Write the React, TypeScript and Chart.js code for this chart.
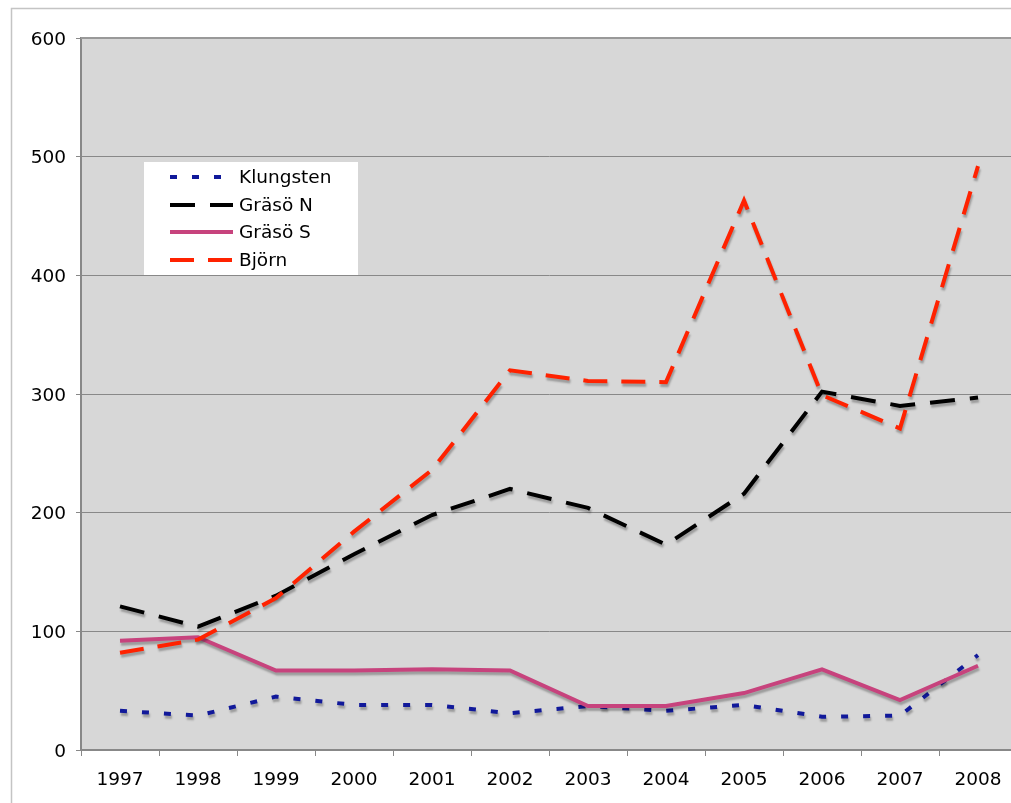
import React, { useEffect, useRef } from "react";
import { Chart, registerables } from "chart.js";

Chart.register(...registerables);

const years = ["1997", "1998", "1999", "2000", "2001", "2002", "2003", "2004", "2005", "2006", "2007", "2008"];
const klungsten = [33, 29, 45, 38, 38, 31, 37, 33, 38, 28, 29, 80];
const grasoN = [121, 104, 130, 165, 198, 220, 204, 173, 216, 302, 290, 297];
const grasoS = [92, 95, 67, 67, 68, 67, 37, 37, 48, 68, 42, 71];
const bjorn = [82, 93, 128, 184, 236, 320, 311, 310, 463, 299, 271, 492];
const yMin = 0;
const yMax = 600;
const yStep = 100;

const FONT = "'DejaVu Sans', Verdana, sans-serif";

export default function App() {
  const ref = useRef<HTMLCanvasElement | null>(null);

  useEffect(() => {
    const canvas = ref.current;
    if (!canvas) return;

    const framePlugin = {
      id: "frame",
      beforeDraw(chart: any) {
        const { ctx, chartArea } = chart;
        ctx.save();
        ctx.fillStyle = "#ffffff";
        ctx.fillRect(0, 0, chart.width, chart.height);
        ctx.strokeStyle = "#c4c4c4";
        ctx.lineWidth = 1.5;
        ctx.beginPath();
        ctx.moveTo(11.5, chart.height + 5);
        ctx.lineTo(11.5, 8.5);
        ctx.lineTo(chart.width + 5, 8.5);
        ctx.stroke();
        ctx.fillStyle = "#d7d7d7";
        ctx.fillRect(chartArea.left, chartArea.top, chartArea.right - chartArea.left, chartArea.bottom - chartArea.top);
        ctx.restore();
      },
      afterDatasetsDraw(chart: any) {
        const { ctx, chartArea } = chart;
        ctx.save();
        ctx.strokeStyle = "#999999";
        ctx.lineWidth = 2;
        ctx.beginPath();
        ctx.moveTo(chartArea.left, chartArea.top);
        ctx.lineTo(chartArea.right, chartArea.top);
        ctx.stroke();
        ctx.restore();
      },
    };

    const shadowPlugin = {
      id: "shadow",
      beforeDatasetDraw(chart: any) {
        const ctx = chart.ctx;
        ctx.save();
        ctx.shadowColor = "rgba(0,0,0,0.28)";
        ctx.shadowOffsetX = 1;
        ctx.shadowOffsetY = 3;
        ctx.shadowBlur = 2;
      },
      afterDatasetDraw(chart: any) {
        chart.ctx.restore();
      },
    };

    const legendPlugin = {
      id: "boxLegend",
      afterDraw(chart: any) {
        const ctx = chart.ctx;
        const boxX = 144, boxY = 162, boxW = 214, boxH = 113;
        ctx.save();
        ctx.fillStyle = "#ffffff";
        ctx.fillRect(boxX, boxY, boxW, boxH);
        const rows = [177, 205, 232, 260];
        const ds = chart.data.datasets;
        ds.forEach((d: any, i: number) => {
          const y = rows[i];
          ctx.strokeStyle = d.borderColor;
          ctx.lineWidth = d.borderWidth;
          ctx.setLineDash(d.borderDash || []);
          ctx.beginPath();
          ctx.moveTo(170, y);
          ctx.lineTo(233, y);
          ctx.stroke();
          ctx.setLineDash([]);
          ctx.fillStyle = "#000000";
          ctx.font = `18.5px ${FONT}`;
          ctx.textBaseline = "middle";
          ctx.textAlign = "left";
          ctx.fillText(d.label, 239, y + 1);
        });
        ctx.restore();
      },
    };

    const chart = new Chart(canvas, {
      type: "line",
      data: {
        labels: years,
        datasets: [
          {
            label: "Klungsten",
            data: klungsten,
            borderColor: "#11199a",
            borderWidth: 4,
            borderDash: [7, 15],
            pointRadius: 0,
            tension: 0,
            order: 3,
          },
          {
            label: "Gräsö N",
            data: grasoN,
            borderColor: "#000000",
            borderWidth: 4,
            borderDash: [25, 15],
            pointRadius: 0,
            tension: 0,
            order: 2,
          },
          {
            label: "Gräsö S",
            data: grasoS,
            borderColor: "#c7437d",
            borderWidth: 4,
            pointRadius: 0,
            tension: 0,
            order: 1,
          },
          {
            label: "Björn",
            data: bjorn,
            borderColor: "#ff2200",
            borderWidth: 4,
            borderDash: [24, 14],
            pointRadius: 0,
            tension: 0,
            order: 0,
          },
        ],
      },
      options: {
        responsive: false,
        animation: false,
        events: [],
        layout: { padding: { left: 0, top: 38, right: 13, bottom: 0 } },
        plugins: {
          legend: { display: false },
          tooltip: { enabled: false },
          title: { display: false },
        },
        scales: {
          x: {
            type: "category",
            offset: true,
            grid: {
              offset: true,
              drawOnChartArea: false,
              drawTicks: true,
              tickLength: 6,
              color: "#888888",
            },
            border: { display: true, color: "#888888", width: 2 },
            ticks: {
              color: "#000000",
              font: { family: FONT, size: 18.5 },
              padding: 13,
              maxRotation: 0,
              autoSkip: false,
            },
            afterFit(scale: any) {
              scale.height = 53;
            },
          },
          y: {
            min: yMin,
            max: yMax,
            ticks: {
              stepSize: yStep,
              color: "#000000",
              font: { family: FONT, size: 18.5 },
              padding: 10,
              labelOffset: 2,
            },
            grid: {
              color: "#888888",
              lineWidth: 1,
              tickLength: 5,
              drawTicks: true,
            },
            border: { display: true, color: "#888888", width: 2 },
            afterFit(scale: any) {
              scale.width = 81;
            },
          },
        },
      },
      plugins: [framePlugin, shadowPlugin, legendPlugin],
    });

    return () => {
      chart.destroy();
    };
  }, []);

  return (
    <div
      style={{
        position: "fixed",
        left: 0,
        top: 0,
        width: 1011,
        height: 803,
        overflow: "hidden",
        background: "#ffffff",
      }}
    >
      <canvas ref={ref} width={1030} height={803} style={{ display: "block", width: 1030, height: 803 }} />
    </div>
  );
}
